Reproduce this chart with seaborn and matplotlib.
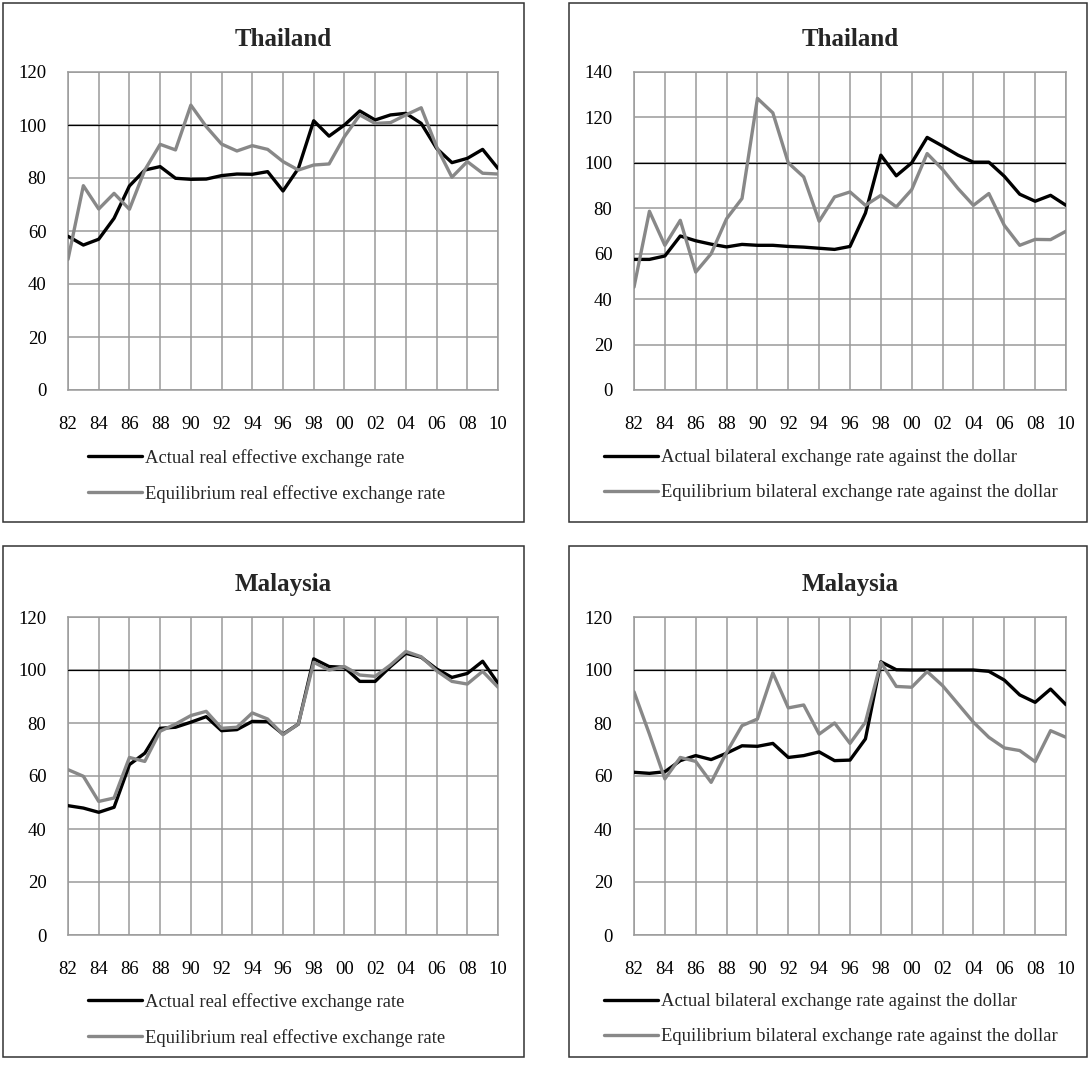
import matplotlib
matplotlib.use('Agg')
import matplotlib.pyplot as plt
import seaborn as sns
import pandas as pd
from matplotlib.patches import Rectangle
from matplotlib.lines import Line2D

years = list(range(1982, 2011))
tick_years = years[::2]
tick_labels = [f"{y % 100:02d}" for y in tick_years]

# Thailand - real effective exchange rate
th_reer_actual = [58, 54.7, 56.9, 64.8, 77, 83, 84.3, 79.9, 79.5, 79.6, 80.9, 81.5, 81.4, 82.4,
                  75.1, 83.6, 101.6, 95.8, 100, 105.3, 101.9, 103.8, 104.4, 100.6, 91.2, 85.8, 87.4, 90.8, 83.6]
th_reer_equil = [49.3, 77.1, 68.3, 74.2, 68.2, 83, 92.7, 90.6, 107.5, 99.4, 92.8, 90.2, 92.2, 90.8,
                 86.2, 83, 84.9, 85.3, 95.6, 103.8, 100.6, 100.9, 103.8, 106.5, 91.8, 80.3, 86.2, 81.8, 81.5]
# Thailand - bilateral rate against the dollar
th_bil_actual = [57.5, 57.5, 59, 67.8, 65.7, 64.2, 63, 64.1, 63.7, 63.7, 63.2, 62.9, 62.4, 61.9,
                 63.2, 77.9, 103.4, 94.3, 100, 111.2, 107.4, 103.4, 100.3, 100.3, 94.1, 86.2, 83.1, 85.7, 81.3]
th_bil_equil = [45.3, 78.7, 63.7, 74.7, 51.9, 60, 75.4, 84.3, 128.4, 122, 100, 93.8, 74.3, 85,
                87.2, 81.3, 85.7, 80.6, 88.2, 104.1, 97.1, 88.7, 81.3, 86.5, 72.5, 63.7, 66.3, 66.2, 69.9]
# Malaysia - real effective exchange rate
my_reer_actual = [48.8, 47.9, 46.3, 48.2, 64.3, 68.6, 78, 78.4, 80.3, 82.4, 77.1, 77.5, 80.6, 80.5,
                  75.8, 79.6, 104.2, 101.3, 101, 95.7, 95.7, 101.3, 106.3, 104.8, 100.4, 97.2, 98.7, 103.3, 95]
my_reer_equil = [62.4, 59.9, 50.4, 51.7, 67, 65.5, 76.9, 79.6, 82.8, 84.4, 78, 78.4, 83.8, 81.5,
                 75.6, 79.6, 102.9, 100, 101.3, 98.1, 97.6, 101.9, 107, 105, 99.7, 95.7, 94.7, 99.5, 93.5]
# Malaysia - bilateral rate against the dollar
my_bil_actual = [61.4, 61, 61.6, 65.8, 67.7, 66.2, 68.6, 71.4, 71.2, 72.3, 67, 67.7, 69.1, 65.8,
                 66, 74, 103.1, 100.1, 100, 100, 100, 100, 100, 99.5, 96.2, 90.6, 87.8, 92.8, 86.9]
my_bil_equil = [91.8, 75.8, 58.9, 67, 65.5, 57.6, 68.9, 79, 81.5, 98.9, 85.7, 86.8, 75.8, 80,
                72.3, 80.3, 102.9, 93.8, 93.5, 99.4, 94.1, 87.2, 80.3, 74.6, 70.6, 69.6, 65.4, 77.1, 74.6]

titles = ["Thailand", "Thailand", "Malaysia", "Malaysia"]
reer_labels = ["Actual real effective exchange rate", "Equilibrium real effective exchange rate"]
bil_labels = ["Actual bilateral exchange rate against the dollar",
              "Equilibrium bilateral exchange rate against the dollar"]

sns.set_theme(style="white")
plt.rcParams['font.family'] = ['Liberation Serif', 'DejaVu Serif']

W, H = 1089, 1067
fig = plt.figure(figsize=(W / 100, H / 100), dpi=100)
fig.patch.set_facecolor('white')


def fx(px):
    return px / W


def fy(py):
    return 1 - py / H


BLACK = '#000000'
GRAY = '#888888'
GRID = '#9a9a9a'

panels = [
    dict(rect=(68, 72, 498, 390), title=titles[0], a=th_reer_actual, e=th_reer_equil, ymax=120,
         labels=reer_labels, box=(3, 3, 524, 522), leg=(88, 449)),
    dict(rect=(634, 72, 1066, 390), title=titles[1], a=th_bil_actual, e=th_bil_equil, ymax=140,
         labels=bil_labels, box=(569, 3, 1087, 522), leg=(604, 449)),
    dict(rect=(68, 617, 498, 935), title=titles[2], a=my_reer_actual, e=my_reer_equil, ymax=120,
         labels=reer_labels, box=(3, 546, 524, 1057), leg=(88, 993)),
    dict(rect=(634, 617, 1066, 935), title=titles[3], a=my_bil_actual, e=my_bil_equil, ymax=120,
         labels=bil_labels, box=(569, 546, 1087, 1057), leg=(604, 993)),
]

for p in panels:
    x0, y0, x1, y1 = p['rect']
    ax = fig.add_axes([fx(x0), fy(y1), (x1 - x0) / W, (y1 - y0) / H])
    n = len(years)
    df = pd.DataFrame({
        'year': years + years,
        'value': p['a'] + p['e'],
        'series': [p['labels'][0]] * n + [p['labels'][1]] * n,
    })
    sns.lineplot(data=df, x='year', y='value', hue='series',
                 palette={p['labels'][0]: BLACK, p['labels'][1]: GRAY},
                 hue_order=[p['labels'][0], p['labels'][1]],
                 linewidth=2.4, ax=ax, legend=False, zorder=4)
    ax.axhline(100, color='black', lw=0.9, zorder=3)
    ax.set_xlim(1982, 2010)
    ax.set_ylim(0, p['ymax'])
    ax.set_xticks(tick_years)
    ax.set_xticklabels(tick_labels)
    ax.set_yticks(list(range(0, p['ymax'] + 1, 20)))
    ax.grid(True, color=GRID, lw=1.1, zorder=1)
    ax.set_axisbelow(True)
    for s in ax.spines.values():
        s.set_color(GRID)
        s.set_linewidth(1.1)
    ax.tick_params(axis='both', length=0, labelsize=13.5, colors='black')
    ax.tick_params(axis='x', pad=18.5)
    ax.tick_params(axis='y', pad=15.5)
    ax.set_xlabel('')
    ax.set_ylabel('')
    ax.set_title(p['title'], fontsize=18, fontweight='bold', pad=19)

    handles = [Line2D([], [], color=BLACK, lw=2.4), Line2D([], [], color=GRAY, lw=2.4)]
    lx, ly = p['leg']
    fig.legend(handles, p['labels'], loc='upper left',
               bbox_to_anchor=(fx(lx), fy(ly)), bbox_transform=fig.transFigure,
               frameon=False, fontsize=13.4, handlelength=2.9, handletextpad=0.15,
               labelspacing=0.98, borderpad=0, borderaxespad=0)

    bx0, by0, bx1, by1 = p['box']
    fig.patches.append(Rectangle((fx(bx0), fy(by1)), (bx1 - bx0) / W, (by1 - by0) / H,
                                 transform=fig.transFigure, fill=False,
                                 edgecolor='#333333', lw=1.1))

fig.savefig('out.png', dpi=100, facecolor='white')
